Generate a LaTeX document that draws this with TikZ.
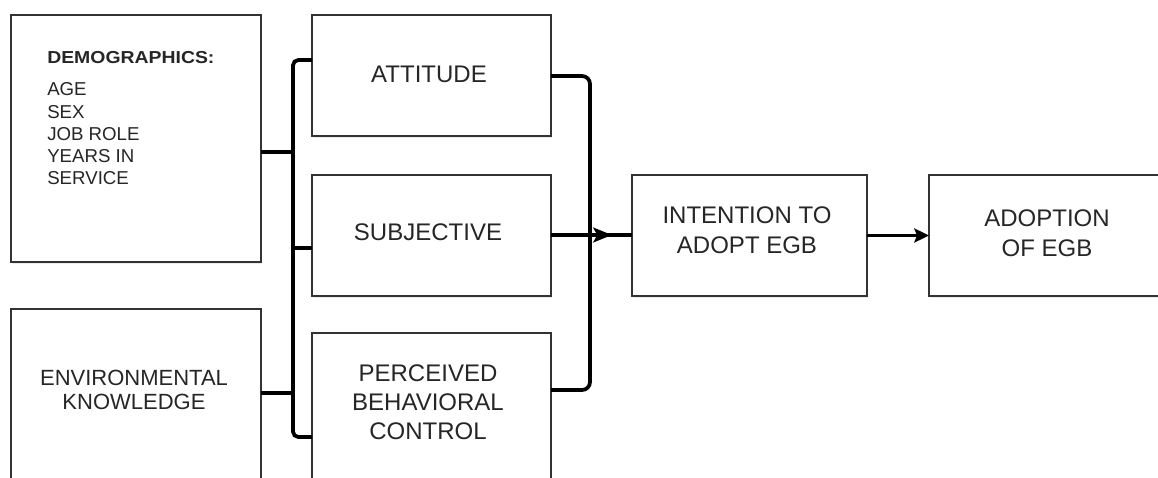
\documentclass[tikz,border=0pt]{standalone}
\usepackage{fontspec}
\setmainfont{Liberation Sans}
\usetikzlibrary{arrows.meta,shadows}
\begin{document}
\begin{tikzpicture}[x=0.75pt,y=-0.75pt,
  box/.style={draw=black!80, line width=0.9pt, fill=white, rectangle, inner sep=0pt, outer sep=0pt,
    drop shadow={shadow xshift=0.6pt, shadow yshift=-1.8pt, opacity=0.15}},
  lbl/.style={text=black!85, font=\fontsize{18pt}{22pt}\selectfont, align=center, inner sep=0pt},
  conn/.style={line width=2.8pt, black},
  tip/.style={-{Stealth[length=14pt,width=11pt,inset=3pt]}},
  tipb/.style={-{Stealth[length=11pt,width=10.5pt,inset=2pt]}}
]
\useasboundingbox (0,0) rectangle (1158,478);
\clip (0,0) rectangle (1158,478);
\fill[white] (0,0) rectangle (1158,478);

% boxes
\node[box, minimum width=187.5pt, minimum height=185.25pt] (demo) at (136,138.5) {};
\node[box, minimum width=187.5pt, minimum height=185.25pt] (env) at (136,432.5) {};
\node[box, minimum width=179.25pt, minimum height=90.75pt] (att) at (431.5,75.5) {};
\node[box, minimum width=179.25pt, minimum height=90.75pt] (sub) at (431.5,235.5) {};
\node[box, minimum width=179.25pt, minimum height=120pt] (pbc) at (431.5,413) {};
\node[box, minimum width=176.25pt, minimum height=90.75pt] (int) at (749.5,235.5) {};
\node[box, minimum width=177pt, minimum height=90.75pt] (adopt) at (1047,235.5) {};

% labels
\node[anchor=west, inner sep=0pt, text=black!85, font=\bfseries\fontsize{13pt}{15pt}\selectfont] (demohead) at (47,58) {\scalebox{1.12}[1]{DEMOGRAPHICS:}};
\node[anchor=west, align=left, inner sep=0pt, text=black!85, font=\fontsize{14pt}{16.7pt}\selectfont] (demolist) at (47,134) {AGE\\SEX\\JOB ROLE\\YEARS IN\\SERVICE};
\node[lbl, font=\fontsize{16.5pt}{18pt}\selectfont] (envlbl) at (134,390) {ENVIRONMENTAL\\KNOWLEDGE};
\node[lbl] (attlbl) at (429,74) {ATTITUDE};
\node[lbl] (sublbl) at (428,232) {SUBJECTIVE};
\node[lbl, font=\fontsize{18pt}{21.75pt}\selectfont] (pbclbl) at (428,402.5) {PERCEIVED\\BEHAVIORAL\\CONTROL};
\node[lbl, font=\fontsize{18pt}{22.5pt}\selectfont] (intlbl) at (747,230.5) {INTENTION TO\\ADOPT EGB};
\node[lbl, font=\fontsize{18pt}{22.5pt}\selectfont] (adoptlbl) at (1047,233.5) {ADOPTION\\OF EGB};

% left bus
\coordinate (bt) at (293,60);
\coordinate (bb) at (293,437);
\coordinate (bs) at (293,248);
\coordinate (bd) at (293,152);
\coordinate (be) at (293,393);
\draw[conn, rounded corners=4pt] (att.west |- bt) -- (bt) -- (bb) -- (pbc.west |- bb);
\draw[conn] (bs) -- (sub.west |- bs);
\draw[conn] (demo.east |- bd) -- (bd);
\draw[conn] (env.east |- be) -- (be);

% right bracket
\coordinate (rt) at (590,76);
\coordinate (rb) at (590,390);
\coordinate (rm) at (590,235);
\coordinate (rtip) at (612,235);
\draw[conn, rounded corners=6pt] (att.east |- rt) -- (rt) -- (rb) -- (pbc.east |- rb);
\draw[conn] (sub.east |- rm) -- (int.west |- rm);
\draw[conn, tip] (rm) -- (rtip);

% final arrow
\draw[conn, tipb] (int.east) -- (adopt.west);
\end{tikzpicture}
\end{document}
